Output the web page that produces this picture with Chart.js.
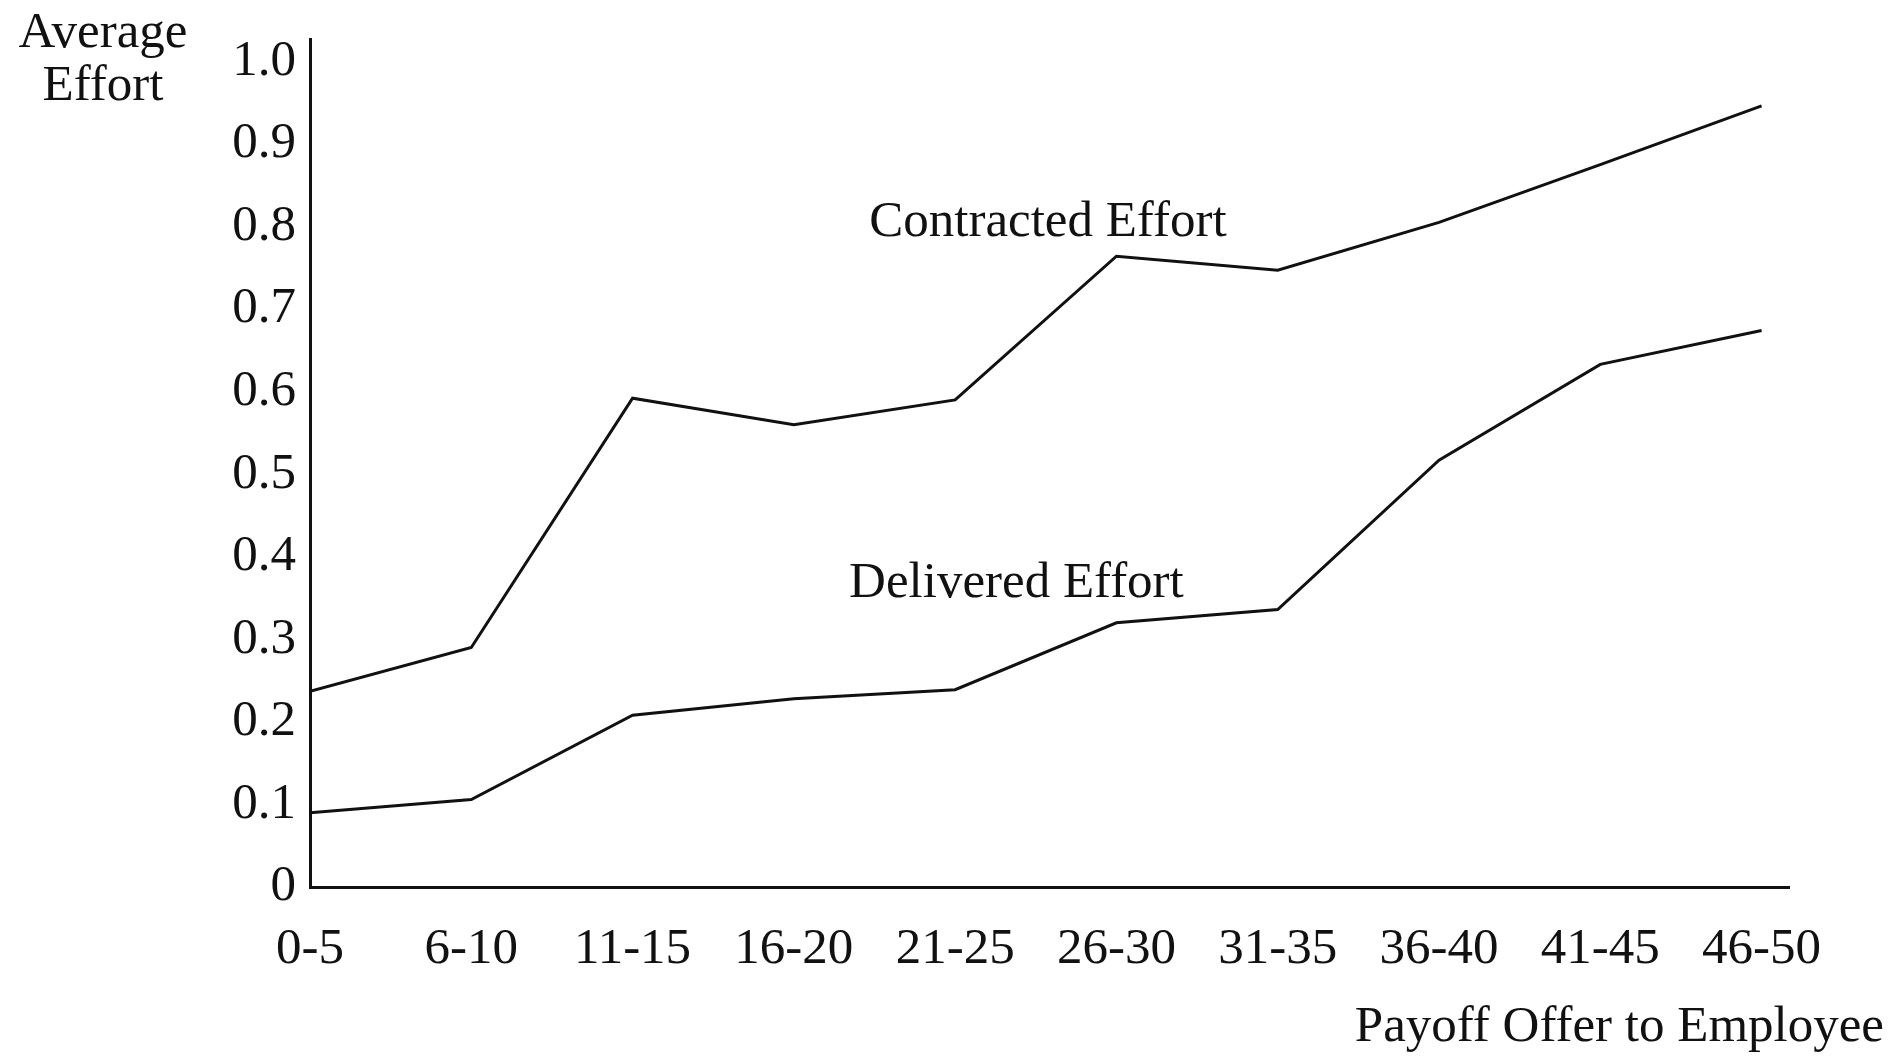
<!DOCTYPE html>
<html>
<head>
<meta charset="utf-8">
<script src="https://cdn.jsdelivr.net/npm/chart.js@4.4.1/dist/chart.umd.min.js"></script>
<style>
    html, body { margin: 0; padding: 0; background: #fff; }
    #wrap { width: 1892px; height: 1056px; position: relative; }
</style>
</head>
<body>
<div id="wrap"><canvas id="effortChart"></canvas></div>
<script>
const categories = ['0-5', '6-10', '11-15', '16-20', '21-25', '26-30', '31-35', '36-40', '41-45', '46-50'];
const contractedEffort = [0.237, 0.290, 0.592, 0.560, 0.590, 0.764, 0.747, 0.805, 0.875, 0.946];
const deliveredEffort = [0.090, 0.106, 0.208, 0.228, 0.239, 0.320, 0.336, 0.517, 0.633, 0.674];
const yTickLabels = ['0', '0.1', '0.2', '0.3', '0.4', '0.5', '0.6', '0.7', '0.8', '0.9', '1.0'];

const serif = "'Liberation Serif', 'DejaVu Serif', serif";
const ink = '#111';
const fontSize = 51;

// series labels sit next to the lines, in data coordinates
const seriesLabels = [
    { text: 'Contracted Effort', x: 4.575, y: 0.805 },
    { text: 'Delivered Effort', x: 4.38, y: 0.367 }
];

const toPoints = (values) => values.map((v, i) => ({ x: i, y: v }));

const textPlugin = {
    id: 'figureText',
    afterDraw(chart) {
        const { ctx, scales } = chart;
        ctx.save();
        ctx.fillStyle = ink;
        ctx.font = `${fontSize}px ${serif}`;
        ctx.textBaseline = 'middle';
        ctx.textAlign = 'center';
        seriesLabels.forEach((item) => {
            ctx.fillText(item.text, scales.x.getPixelForValue(item.x), scales.y.getPixelForValue(item.y));
        });
        // axis titles
        ctx.fillText('Average', 103, 34);
        ctx.fillText('Effort', 103, 87);
        ctx.textAlign = 'right';
        ctx.fillText('Payoff Offer to Employee', 1884, 1028);
        ctx.restore();
    }
};

const lineStyle = {
    borderColor: ink,
    borderWidth: 3,
    pointRadius: 0,
    tension: 0,
    fill: false
};

new Chart(document.getElementById('effortChart'), {
    type: 'line',
    data: {
        datasets: [
            { label: 'Contracted Effort', data: toPoints(contractedEffort), ...lineStyle },
            { label: 'Delivered Effort', data: toPoints(deliveredEffort), ...lineStyle }
        ]
    },
    options: {
        responsive: true,
        maintainAspectRatio: false,
        animation: false,
        layout: { padding: { top: 36, right: 103, left: 0, bottom: 0 } },
        plugins: {
            legend: { display: false },
            tooltip: { enabled: false }
        },
        scales: {
            x: {
                type: 'linear',
                min: 0,
                max: 9.17,
                grid: { display: false, drawTicks: false },
                border: { display: true, color: ink, width: 3 },
                afterFit: (scale) => { scale.height = 169; },
                ticks: {
                    stepSize: 1,
                    includeBounds: false,
                    autoSkip: false,
                    maxRotation: 0,
                    padding: 32,
                    color: ink,
                    font: { family: serif, size: fontSize },
                    callback: (value) => categories[value] ?? ''
                }
            },
            y: {
                min: 0,
                max: 1.0265,
                grid: { display: false, drawTicks: false },
                border: { display: true, color: ink, width: 3 },
                afterFit: (scale) => { scale.width = 310; },
                ticks: {
                    stepSize: 0.1,
                    includeBounds: false,
                    padding: 14,
                    color: ink,
                    font: { family: serif, size: fontSize, lineHeight: 1 },
                    callback: (value) => yTickLabels[Math.round(value * 10)] ?? ''
                }
            }
        }
    },
    plugins: [textPlugin]
});
</script>
</body>
</html>
